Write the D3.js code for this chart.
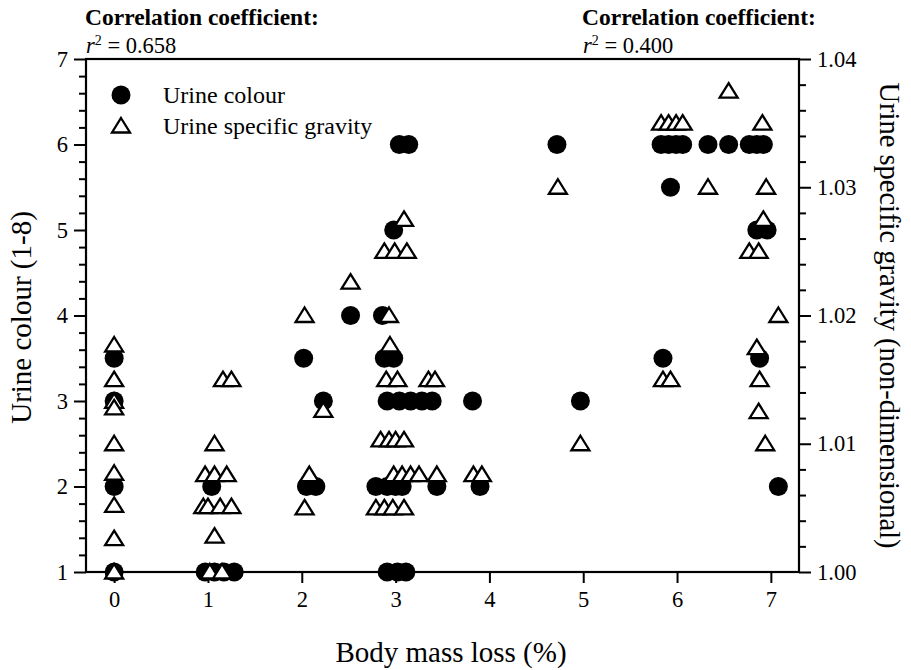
<!DOCTYPE html>
<html>
<head>
<meta charset="utf-8">
<script src="https://cdn.jsdelivr.net/npm/d3@7"></script>
<style>
  html, body { margin: 0; padding: 0; background: #fff; }
  svg, svg text { font-family: "Liberation Serif", "Times New Roman", Times, serif !important; fill: #000; }
</style>
</head>
<body>
<svg id="chart" width="911" height="670" font-family="Liberation Serif"></svg>
<script>
// ---- Data ----
// Urine colour (left axis) : body mass loss % and colour score
const colourX = [0, 0, 0, 0,
  1.04, 0.97, 1.07, 1.17, 1.28,
  2.02, 2.23, 2.05, 2.15, 2.52,
  2.98, 3.04, 3.14, 2.86, 2.88, 2.98, 2.91, 3.04, 3.16, 3.28, 3.39, 3.82,
  2.79, 2.91, 3.0, 3.07, 3.44, 3.9, 2.91, 3.02, 3.11,
  4.72, 4.97,
  5.83, 5.91, 5.99, 6.06, 6.33, 6.55, 6.77, 6.85, 6.92, 5.93, 6.85, 6.96, 5.85, 6.88, 7.08];
const colourY = [3.5, 3.0, 2.0, 1.0,
  2.0, 1, 1, 1, 1,
  3.5, 3.0, 2.0, 2.0, 4.0,
  5.0, 6, 6, 4.0, 3.5, 3.5, 3, 3, 3, 3, 3, 3,
  2, 2, 2, 2, 2, 2, 1, 1, 1,
  6, 3,
  6, 6, 6, 6, 6, 6, 6, 6, 6, 5.5, 5, 5, 3.5, 3.5, 2.0];

// Urine specific gravity (right axis) : body mass loss % and SG
const sgX = [0, 0, 0, 0, 0, 0, 0, 0, 0,
  1.16, 1.25, 1.07, 0.97, 1.07, 1.2, 0.95, 1.0, 1.13, 1.25, 1.07, 1.02, 1.15,
  2.03, 2.23, 2.08, 2.03, 2.52,
  3.09, 2.88, 2.99, 3.12, 2.93, 2.94, 2.9, 3.02, 3.35, 3.42,
  2.84, 2.93, 3.0, 3.09, 2.98, 3.07, 3.16, 3.25, 3.44, 3.83, 3.92,
  2.79, 2.88, 2.97, 3.09,
  4.73, 4.97,
  6.55, 5.83, 5.91, 5.99, 6.06, 6.91, 6.33, 6.95, 6.92, 6.77, 6.87, 7.08, 6.85,
  5.85, 5.93, 6.88, 6.87, 6.94];
const sgY = [1.0177, 1.015, 1.0133, 1.0128, 1.010, 1.0077, 1.0052, 1.0026, 1.000,
  1.015, 1.015, 1.010, 1.0076, 1.0076, 1.0076, 1.0051, 1.0051, 1.0051, 1.0051, 1.0028, 1.000, 1.000,
  1.020, 1.0126, 1.0076, 1.005, 1.0226,
  1.0275, 1.025, 1.025, 1.025, 1.020, 1.0177, 1.015, 1.015, 1.015, 1.015,
  1.0103, 1.0103, 1.0103, 1.0103, 1.0076, 1.0076, 1.0076, 1.0076, 1.0076, 1.0076, 1.0076,
  1.005, 1.005, 1.005, 1.005,
  1.030, 1.010,
  1.0375, 1.035, 1.035, 1.035, 1.035, 1.035, 1.030, 1.030, 1.0275, 1.025, 1.025, 1.020, 1.0175,
  1.015, 1.015, 1.015, 1.0125, 1.010];

const xTicks = [0, 1, 2, 3, 4, 5, 6, 7];
const yLeftTicks = [1, 2, 3, 4, 5, 6, 7];
const yRightTicks = [1.00, 1.01, 1.02, 1.03, 1.04];
const seriesNames = ["Urine colour", "Urine specific gravity"];
const headerTitles = ["Correlation coefficient:", "Correlation coefficient:"];
const r2Values = ["0.658", "0.400"];

// ---- Layout ----
const FONT = "'Liberation Serif', 'Times New Roman', serif";
const svg = d3.select("#chart");
const L = 86, R = 799, T = 59, B = 572;

const x = d3.scaleLinear().domain([-0.3, 7.3]).range([L, R]);
const yL = d3.scaleLinear().domain([1, 7]).range([B, T]);
const yR = d3.scaleLinear().domain([1.00, 1.04]).range([B, T]);

const minorLeft = d3.range(1, 7.0001, 0.2).filter(v => Math.abs(v - Math.round(v)) > 1e-6);
const minorRight = d3.range(1.0, 1.04001, 0.002).filter(v => Math.abs(v * 100 - Math.round(v * 100)) > 1e-6);

function styleAxis(g) {
  g.attr("font-family", FONT);
  g.select(".domain").remove();
  g.selectAll("line").attr("stroke", "#000").attr("stroke-width", 2);
  g.selectAll("text").attr("font-family", FONT).style("font-family", FONT).style("font-size", "22.5px");
}

// bottom axis
svg.append("g").attr("transform", `translate(0,${B})`)
  .call(d3.axisBottom(x).tickValues(xTicks).tickSize(11).tickPadding(8).tickFormat(d3.format("d")))
  .call(styleAxis);

// left axis
svg.append("g").attr("transform", `translate(${L},0)`)
  .call(d3.axisLeft(yL).tickValues(yLeftTicks).tickSize(12).tickPadding(6).tickFormat(d3.format("d")))
  .call(styleAxis);
svg.append("g").attr("transform", `translate(${L},0)`)
  .call(d3.axisLeft(yL).tickValues(minorLeft).tickSize(7).tickFormat(""))
  .call(styleAxis);

// right axis
svg.append("g").attr("transform", `translate(${R},0)`)
  .call(d3.axisRight(yR).tickValues(yRightTicks).tickSize(12).tickPadding(6).tickFormat(d3.format(".2f")))
  .call(styleAxis);
svg.append("g").attr("transform", `translate(${R},0)`)
  .call(d3.axisRight(yR).tickValues(minorRight).tickSize(7).tickFormat(""))
  .call(styleAxis);

// frame
svg.append("rect").attr("x", L).attr("y", T).attr("width", R - L).attr("height", B - T)
  .attr("fill", "none").attr("stroke", "#000").attr("stroke-width", 2.2);

// markers
const triPath = "M0,-8L9,6.5L-9,6.5Z";
const colourData = colourX.map((v, i) => [v, colourY[i]]);
const sgData = sgX.map((v, i) => [v, sgY[i]]);

svg.append("g").selectAll("circle").data(colourData).join("circle")
  .attr("cx", d => x(d[0])).attr("cy", d => yL(d[1])).attr("r", 9.5).attr("fill", "#000");

svg.append("g").selectAll("path").data(sgData).join("path")
  .attr("d", triPath)
  .attr("transform", d => `translate(${x(d[0])},${yR(d[1])})`)
  .attr("fill", "#fff").attr("stroke", "#000").attr("stroke-width", 2.3).attr("stroke-linejoin", "miter");

// text helper
function txt(sel, size) {
  return sel.attr("font-family", FONT).style("font-family", FONT).style("font-size", size + "px");
}

// legend
const leg = svg.append("g");
leg.append("circle").attr("cx", 121).attr("cy", 95).attr("r", 9.5).attr("fill", "#000");
leg.append("path").attr("d", triPath).attr("transform", "translate(121,126)")
  .attr("fill", "#fff").attr("stroke", "#000").attr("stroke-width", 2.3);
txt(leg.append("text").attr("x", 163).attr("y", 103), 24).text(seriesNames[0]);
txt(leg.append("text").attr("x", 163).attr("y", 134), 24).text(seriesNames[1]);

// headers
[[L, 0], [583, 1]].forEach(([hx, i]) => {
  txt(svg.append("text").attr("x", hx - 1).attr("y", 25), 23.5).style("font-weight", "bold")
    .text(headerTitles[i]);
  const t = txt(svg.append("text").attr("x", hx).attr("y", 53), 22.5);
  t.append("tspan").style("font-style", "italic").text("r");
  t.append("tspan").attr("dy", -8).style("font-size", "14px").text("2");
  t.append("tspan").attr("dy", 8).text(" = " + r2Values[i]);
});

// axis titles
txt(svg.append("text").attr("x", 451).attr("y", 662).attr("text-anchor", "middle"), 29)
  .text("Body mass loss (%)");
txt(svg.append("text").attr("transform", `translate(31,${(T + B) / 2 + 2}) rotate(-90)`).attr("text-anchor", "middle"), 29)
  .text("Urine colour (1-8)");
txt(svg.append("text").attr("transform", `translate(880,${(T + B) / 2}) rotate(90)`).attr("text-anchor", "middle"), 28.5)
  .text("Urine specific gravity (non-dimensional)");
</script>
</body>
</html>
